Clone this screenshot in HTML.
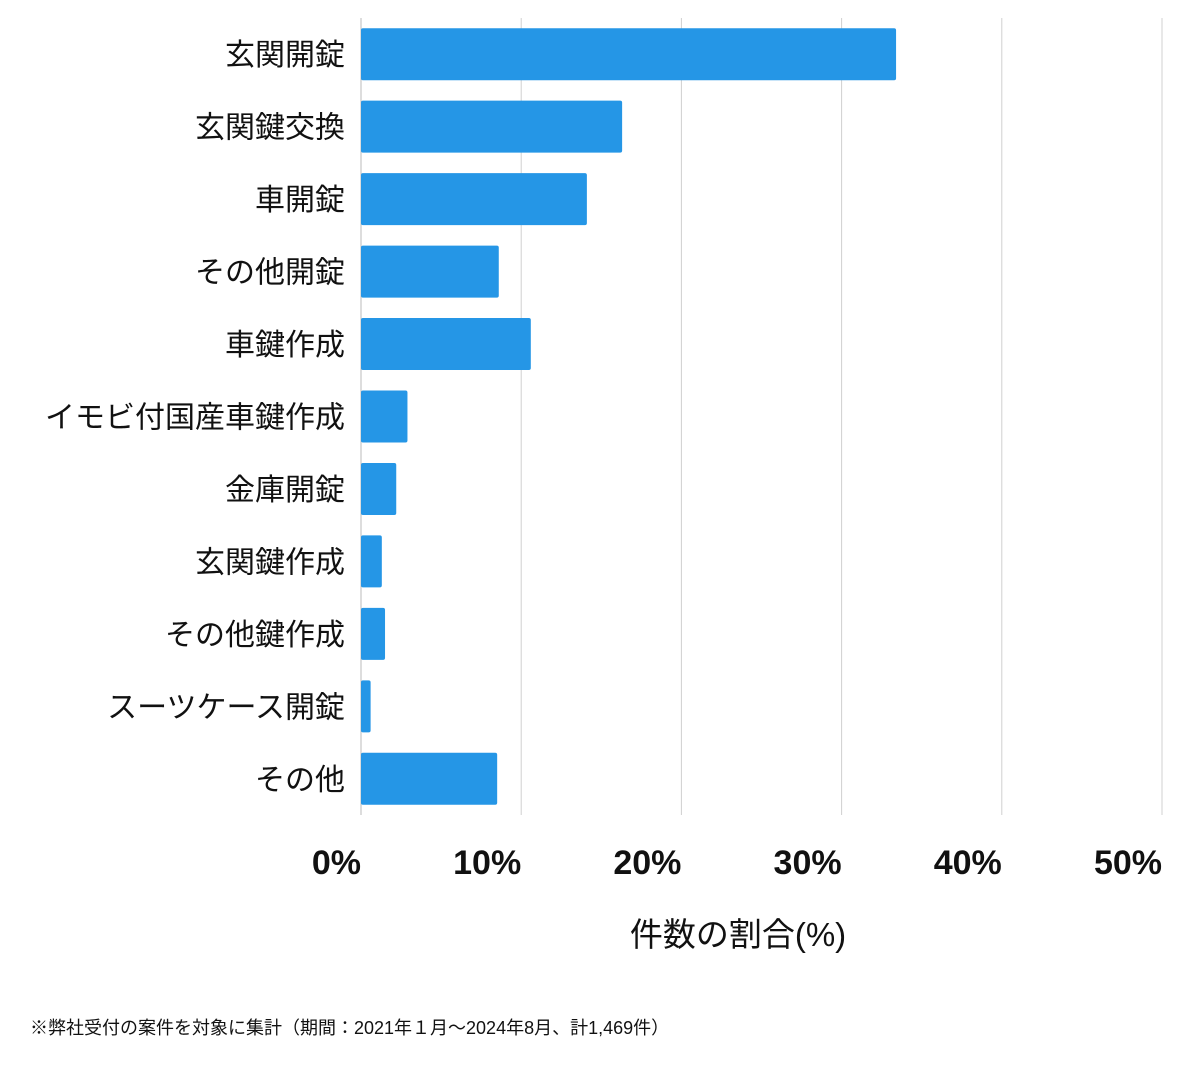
<!DOCTYPE html>
<html><head><meta charset="utf-8">
<style>
body{margin:0;background:#fff;width:1200px;height:1069px;overflow:hidden;font-family:"Liberation Sans","Noto Sans CJK JP",sans-serif;}
svg text{font-family:"Liberation Sans","Noto Sans CJK JP",sans-serif;}
</style></head>
<body>
<svg id="chart" width="1200" height="1069" xmlns="http://www.w3.org/2000/svg"></svg>
<script>
const categories=["玄関開錠","玄関鍵交換","車開錠","その他開錠","車鍵作成","イモビ付国産車鍵作成","金庫開錠","玄関鍵作成","その他鍵作成","スーツケース開錠","その他"];
const values=[33.4,16.3,14.1,8.6,10.6,2.9,2.2,1.3,1.5,0.6,8.5];
const ticks=[0,10,20,30,40,50];
const tickLabels=["0%","10%","20%","30%","40%","50%"];
const svgEl=document.getElementById('chart');
const NS='http://www.w3.org/2000/svg';
const x0=361,x1=1162,maxV=50,yTop=18,yBottom=815;
const xs=v=>x0+(x1-x0)*v/maxV;
const step=(yBottom-yTop)/categories.length;
function mk(t,a){const e=document.createElementNS(NS,t);for(const k in a)e.setAttribute(k,a[k]);svgEl.appendChild(e);return e;}
ticks.forEach((t,i)=>{
 const g=mk('line',{x1:xs(t),x2:xs(t),y1:yTop,y2:yBottom,stroke:i===0?'#bbb':'#d0d0d0','stroke-width':1});
 
 
 const tx=mk('text',{x:xs(t),y:874,'text-anchor':'end','font-size':34,'font-weight':'bold',fill:'#111'});
 tx.textContent=tickLabels[i];
 
 
});
categories.forEach((c,i)=>{
 const cy=yTop+step*(i+0.5);
 const r=mk('rect',{x:x0,y:cy-26,width:Math.max(0,xs(values[i])-x0),height:52,rx:2,fill:'#2596e6'});
 
 
 const t=mk('text',{x:345,y:cy+11,'text-anchor':'end','font-size':30,fill:'#111'});
 t.textContent=c;
 
 
});
const at=mk('text',{x:738,y:946,'text-anchor':'middle','font-size':33,fill:'#111'});
at.textContent='件数の割合(%)';


const fn=mk('text',{x:30,y:1034,'font-size':18,fill:'#111'});
fn.textContent='※弊社受付の案件を対象に集計（期間：2021年１月〜2024年8月、計1,469件）';


</script>
</body></html>
